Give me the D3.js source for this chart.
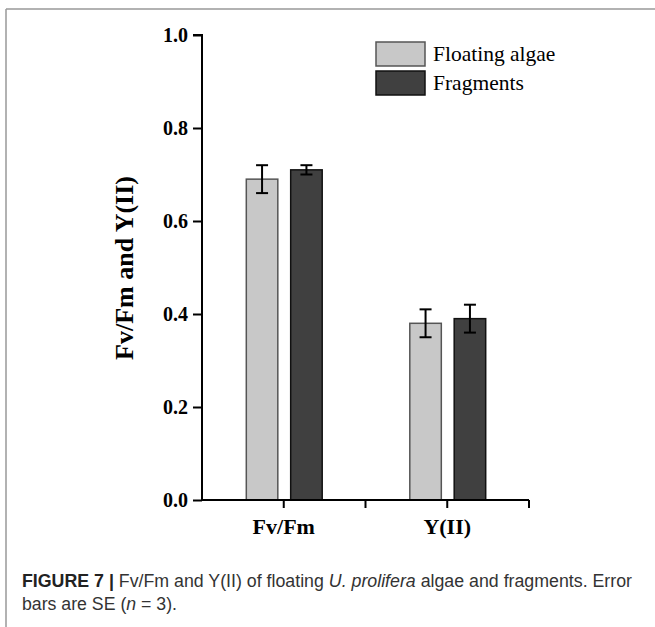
<!DOCTYPE html>
<html><head><meta charset="utf-8">
<script src="https://cdn.jsdelivr.net/npm/d3@7"></script>
<style>body{margin:0;background:#fff}svg{display:block}</style>
</head><body>
<svg id="c" width="655" height="627"></svg>
<script>
const categories = ["Fv/Fm", "Y(II)"];
const seriesNames = ["Floating algae", "Fragments"];
const floatingValues = [0.69, 0.38];
const floatingErrors = [0.03, 0.03];
const fragmentValues = [0.71, 0.39];
const fragmentErrors = [0.01, 0.03];
const yTicks = [0.0, 0.2, 0.4, 0.6, 0.8, 1.0];
const seriesColors = ["#c8c8c8", "#404040"];
const seriesStrokes = ["#555", "#111"];

const svg = d3.select("#c");
const serif = "'Liberation Serif','Times New Roman',serif";
const sans = "'Liberation Sans',Arial,sans-serif";

// frame
svg.append("line").attr("x1", 6).attr("x2", 655).attr("y1", 9).attr("y2", 9).attr("stroke", "#999").attr("stroke-width", 1.5);
svg.append("line").attr("x1", 6).attr("x2", 6).attr("y1", 9).attr("y2", 627).attr("stroke", "#999").attr("stroke-width", 1.5);

const x0 = 202, x1 = 529, yTop = 35, yBot = 500;
const y = d3.scaleLinear().domain([0, 1]).range([yBot, yTop]);
const x = d3.scaleBand().domain(categories).range([x0, x1]);
const sub = d3.scaleBand().domain(seriesNames).range([-41, 42]).paddingInner(0.29).paddingOuter(0.08);

const series = [
  {name: seriesNames[0], values: floatingValues, errors: floatingErrors, i: 0},
  {name: seriesNames[1], values: fragmentValues, errors: fragmentErrors, i: 1}
];

// bars
series.forEach(s => {
  const g = svg.append("g");
  const data = categories.map((c, k) => ({c, v: s.values[k], e: s.errors[k]}));
  g.selectAll("rect").data(data).join("rect")
    .attr("x", d => x(d.c) + x.bandwidth() / 2 + sub(s.name))
    .attr("width", sub.bandwidth())
    .attr("y", d => y(d.v))
    .attr("height", d => y(0) - y(d.v))
    .attr("fill", seriesColors[s.i])
    .attr("stroke", seriesStrokes[s.i])
    .attr("stroke-width", 1.5);
  const eg = g.selectAll("g.err").data(data).join("g").attr("class", "err");
  const cx = d => x(d.c) + x.bandwidth() / 2 + sub(s.name) + sub.bandwidth() / 2;
  eg.append("line").attr("x1", cx).attr("x2", cx).attr("y1", d => y(d.v + d.e)).attr("y2", d => y(d.v - d.e)).attr("stroke", "#000").attr("stroke-width", 2);
  eg.append("line").attr("x1", d => cx(d) - 6).attr("x2", d => cx(d) + 6).attr("y1", d => y(d.v + d.e)).attr("y2", d => y(d.v + d.e)).attr("stroke", "#000").attr("stroke-width", 2);
  eg.append("line").attr("x1", d => cx(d) - 6).attr("x2", d => cx(d) + 6).attr("y1", d => y(d.v - d.e)).attr("y2", d => y(d.v - d.e)).attr("stroke", "#000").attr("stroke-width", 2);
});

// y axis
const yAxis = d3.axisLeft(y).tickValues(yTicks).tickFormat(d3.format(".1f")).tickSize(9).tickPadding(5);
const ya = svg.append("g").attr("transform", `translate(${x0},0)`).call(yAxis);
ya.select(".domain").attr("stroke", "#000").attr("stroke-width", 2).attr("d", `M-9,${yTop}H0V${yBot}`);
ya.selectAll(".tick line").attr("stroke", "#000").attr("stroke-width", 2);
ya.selectAll(".tick text").attr("font-family", serif).attr("font-weight", "bold").attr("font-size", 20).attr("fill", "#000");

// x axis
const xTickPos = [x0, x0 + x.bandwidth() / 2, x0 + x.bandwidth(), x0 + 1.5 * x.bandwidth(), x1];
const xa = svg.append("g");
xa.append("line").attr("x1", x0).attr("x2", x1).attr("y1", yBot).attr("y2", yBot).attr("stroke", "#000").attr("stroke-width", 2);
xa.selectAll("line.t").data(xTickPos.slice(1)).join("line").attr("class", "t")
  .attr("x1", d => d).attr("x2", d => d).attr("y1", yBot).attr("y2", yBot + 8).attr("stroke", "#000").attr("stroke-width", 2);
xa.selectAll("text").data(categories).join("text")
  .attr("x", d => x(d) + x.bandwidth() / 2).attr("y", 534)
  .attr("text-anchor", "middle").attr("font-family", serif).attr("font-weight", "bold").attr("font-size", 22).text(d => d);

// y title
svg.append("text").attr("transform", "translate(133,268) rotate(-90)")
  .attr("text-anchor", "middle").attr("font-family", serif).attr("font-weight", "bold").attr("font-size", 26).text("Fv/Fm and Y(II)");

// legend
const lg = svg.append("g").selectAll("g").data(series).join("g").attr("transform", (d, i) => `translate(376,${42 + i * 29})`);
lg.append("rect").attr("width", 49).attr("height", 24).attr("fill", d => seriesColors[d.i]).attr("stroke", d => seriesStrokes[d.i]).attr("stroke-width", 1.5);
lg.append("text").attr("x", 57).attr("y", 19).attr("font-family", serif).attr("font-size", 21.5).text(d => d.name);

// caption
const cap1 = svg.append("text").attr("x", 22).attr("y", 587).attr("font-family", sans).attr("font-size", 17.5).attr("fill", "#333");
cap1.append("tspan").attr("font-weight", "bold").attr("fill", "#222").text("FIGURE 7 | ");
cap1.append("tspan").text("Fv/Fm and Y(II) of floating ");
cap1.append("tspan").attr("font-style", "italic").text("U. prolifera");
cap1.append("tspan").text(" algae and fragments. Error");
cap1.attr("textLength", 610).attr("lengthAdjust", "spacingAndGlyphs");
const cap2 = svg.append("text").attr("x", 22).attr("y", 610).attr("font-family", sans).attr("font-size", 17.5).attr("fill", "#333");
cap2.append("tspan").text("bars are SE (");
cap2.append("tspan").attr("font-style", "italic").text("n");
cap2.append("tspan").text(" = 3).");
cap2.attr("textLength", 155).attr("lengthAdjust", "spacingAndGlyphs");
</script>
</body></html>
